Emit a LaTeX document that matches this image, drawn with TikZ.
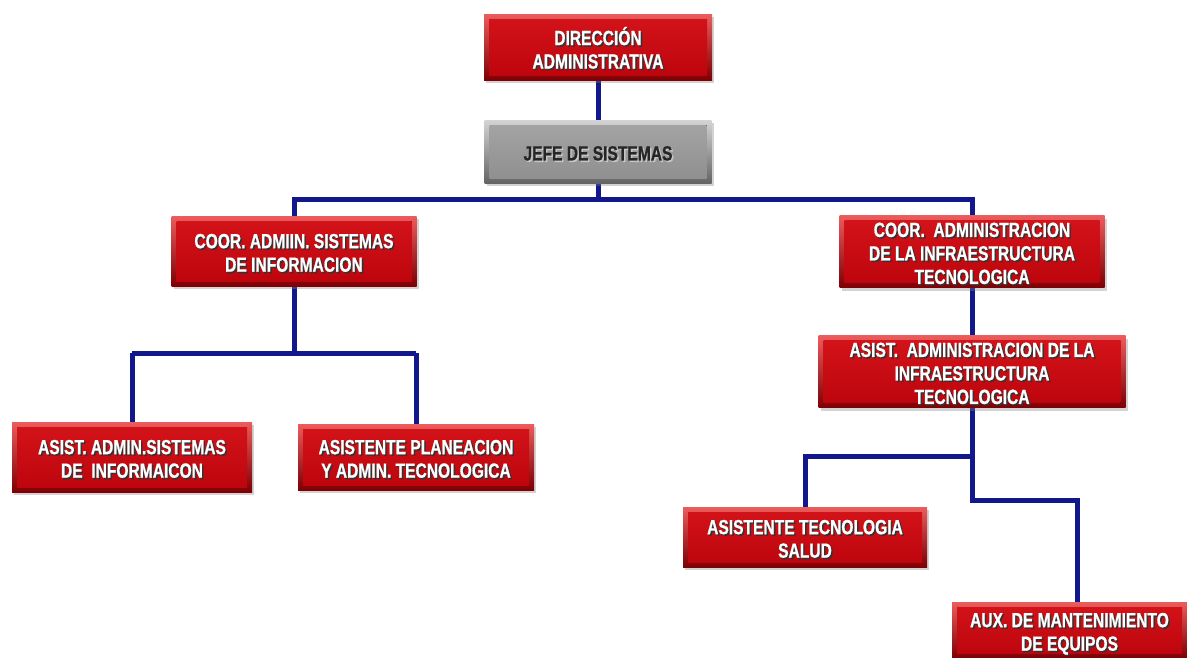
\documentclass[tikz,border=0pt]{standalone}
\usepackage{fontspec}
\setmainfont{Liberation Sans}[FakeStretch=0.76, BoldFeatures={FakeBold=0.8}]
\usetikzlibrary{shadows,calc,backgrounds}

\definecolor{redhi}{RGB}{236,92,92}
\definecolor{redlo}{RGB}{125,0,4}
\definecolor{redtop}{RGB}{212,20,26}
\definecolor{redbot}{RGB}{188,4,12}
\definecolor{grayhi}{RGB}{212,212,212}
\definecolor{graylo}{RGB}{100,100,100}
\definecolor{graytop}{RGB}{165,165,165}
\definecolor{graybot}{RGB}{142,142,142}
\definecolor{navy}{RGB}{16,24,140}

% two-layer text: offset shadow copy, then the text itself
\newcommand\stack[1]{\begin{tabular}{@{}c@{}}#1\end{tabular}}
\newcommand\shadowed[2]{\raisebox{-5pt}[\height][\depth]{\leavevmode\rlap{\kern1.5pt\raisebox{-1.5pt}{\color{#1}\stack{#2}}}\stack{#2}}}
\newcommand\rtext[1]{\shadowed{black!80}{#1}}
\newcommand\gtext[1]{\shadowed{white!55!gray}{#1}}

\tikzset{
  bevelbox/.style n args={4}{
    rectangle, inner sep=0pt,
    top color=#1, bottom color=#2,
    drop shadow={opacity=0.35, shadow xshift=2pt, shadow yshift=-3pt},
    path picture={\fill[top color=#3, bottom color=#4]
      ($(path picture bounding box.south west)+(5pt,5pt)$) rectangle
      ($(path picture bounding box.north east)-(5pt,5pt)$);},
    font=\fontsize{20.5}{23.5}\selectfont\bfseries},
  redbox/.style={bevelbox={redhi}{redlo}{redtop}{redbot}, text=white},
  graybox/.style={bevelbox={grayhi}{graylo}{graytop}{graybot}, text=black!85},
  conn/.style={draw=navy, line width=5pt, line join=miter}
}

\begin{document}
\begin{tikzpicture}[x=1pt,y=-1pt]
\useasboundingbox (0,0) rectangle (1187,657);

\node[redbox, minimum width=228pt, minimum height=66pt] (dir) at (598,47)
  {\rtext{DIRECCIÓN\\ADMINISTRATIVA}};
\node[graybox, minimum width=227pt, minimum height=63pt] (jefe) at (598,151.5)
  {\gtext{JEFE DE SISTEMAS}};
\node[redbox, minimum width=245pt, minimum height=70pt] (coorA) at (294,251)
  {\rtext{COOR. ADMIIN. SISTEMAS\\DE INFORMACION}};
\node[redbox, minimum width=265pt, minimum height=69pt] (coorB) at (972,251.5)
  {\rtext{COOR.\ \ ADMINISTRACION\\DE LA INFRAESTRUCTURA\\TECNOLOGICA}};
\node[redbox, minimum width=307pt, minimum height=67pt] (asistB) at (972,371.5)
  {\rtext{ASIST.\ \ ADMINISTRACION DE LA\\INFRAESTRUCTURA\\TECNOLOGICA}};
\node[redbox, minimum width=240pt, minimum height=70pt] (asistA1) at (132,457)
  {\rtext{ASIST. ADMIN.SISTEMAS\\DE\ \ INFORMAICON}};
\node[redbox, minimum width=236pt, minimum height=66pt] (asistA2) at (416,457)
  {\rtext{ASISTENTE PLANEACION\\Y ADMIN. TECNOLOGICA}};
\node[redbox, minimum width=244pt, minimum height=60pt] (salud) at (805,537)
  {\rtext{ASISTENTE TECNOLOGIA\\SALUD}};
\node[redbox, minimum width=235pt, minimum height=56pt] (aux) at (1069.5,630)
  {\rtext{AUX. DE MANTENIMIENTO\\DE EQUIPOS}};

% junction points of the connector lines
\coordinate (busTop) at (598,199);
\coordinate (busA) at (294,353);
\coordinate (busB) at (972,456);
\coordinate (kneeB) at (1077,500);

\begin{scope}[on background layer]
  \draw[conn] (dir.south) -- (jefe.north);
  \draw[conn] (jefe.south) -- (busTop);
  \draw[conn] (coorA.north) |- (busTop) -| (coorB.north);
  \draw[conn] (coorA.south) -- (busA);
  \draw[conn] (busA -| asistA1.north) -- (busA -| asistA2.north);
  \draw[conn] (busA -| asistA1.north) -- (asistA1.north);
  \draw[conn] (busA -| asistA2.north) -- (asistA2.north);
  \draw[conn] (coorB.south) -- (asistB.north);
  \draw[conn] (asistB.south) -- (busB) -| (salud.north);
  \draw[conn] (busB) |- (kneeB) -- (kneeB |- aux.north);
\end{scope}
\end{tikzpicture}
\end{document}
